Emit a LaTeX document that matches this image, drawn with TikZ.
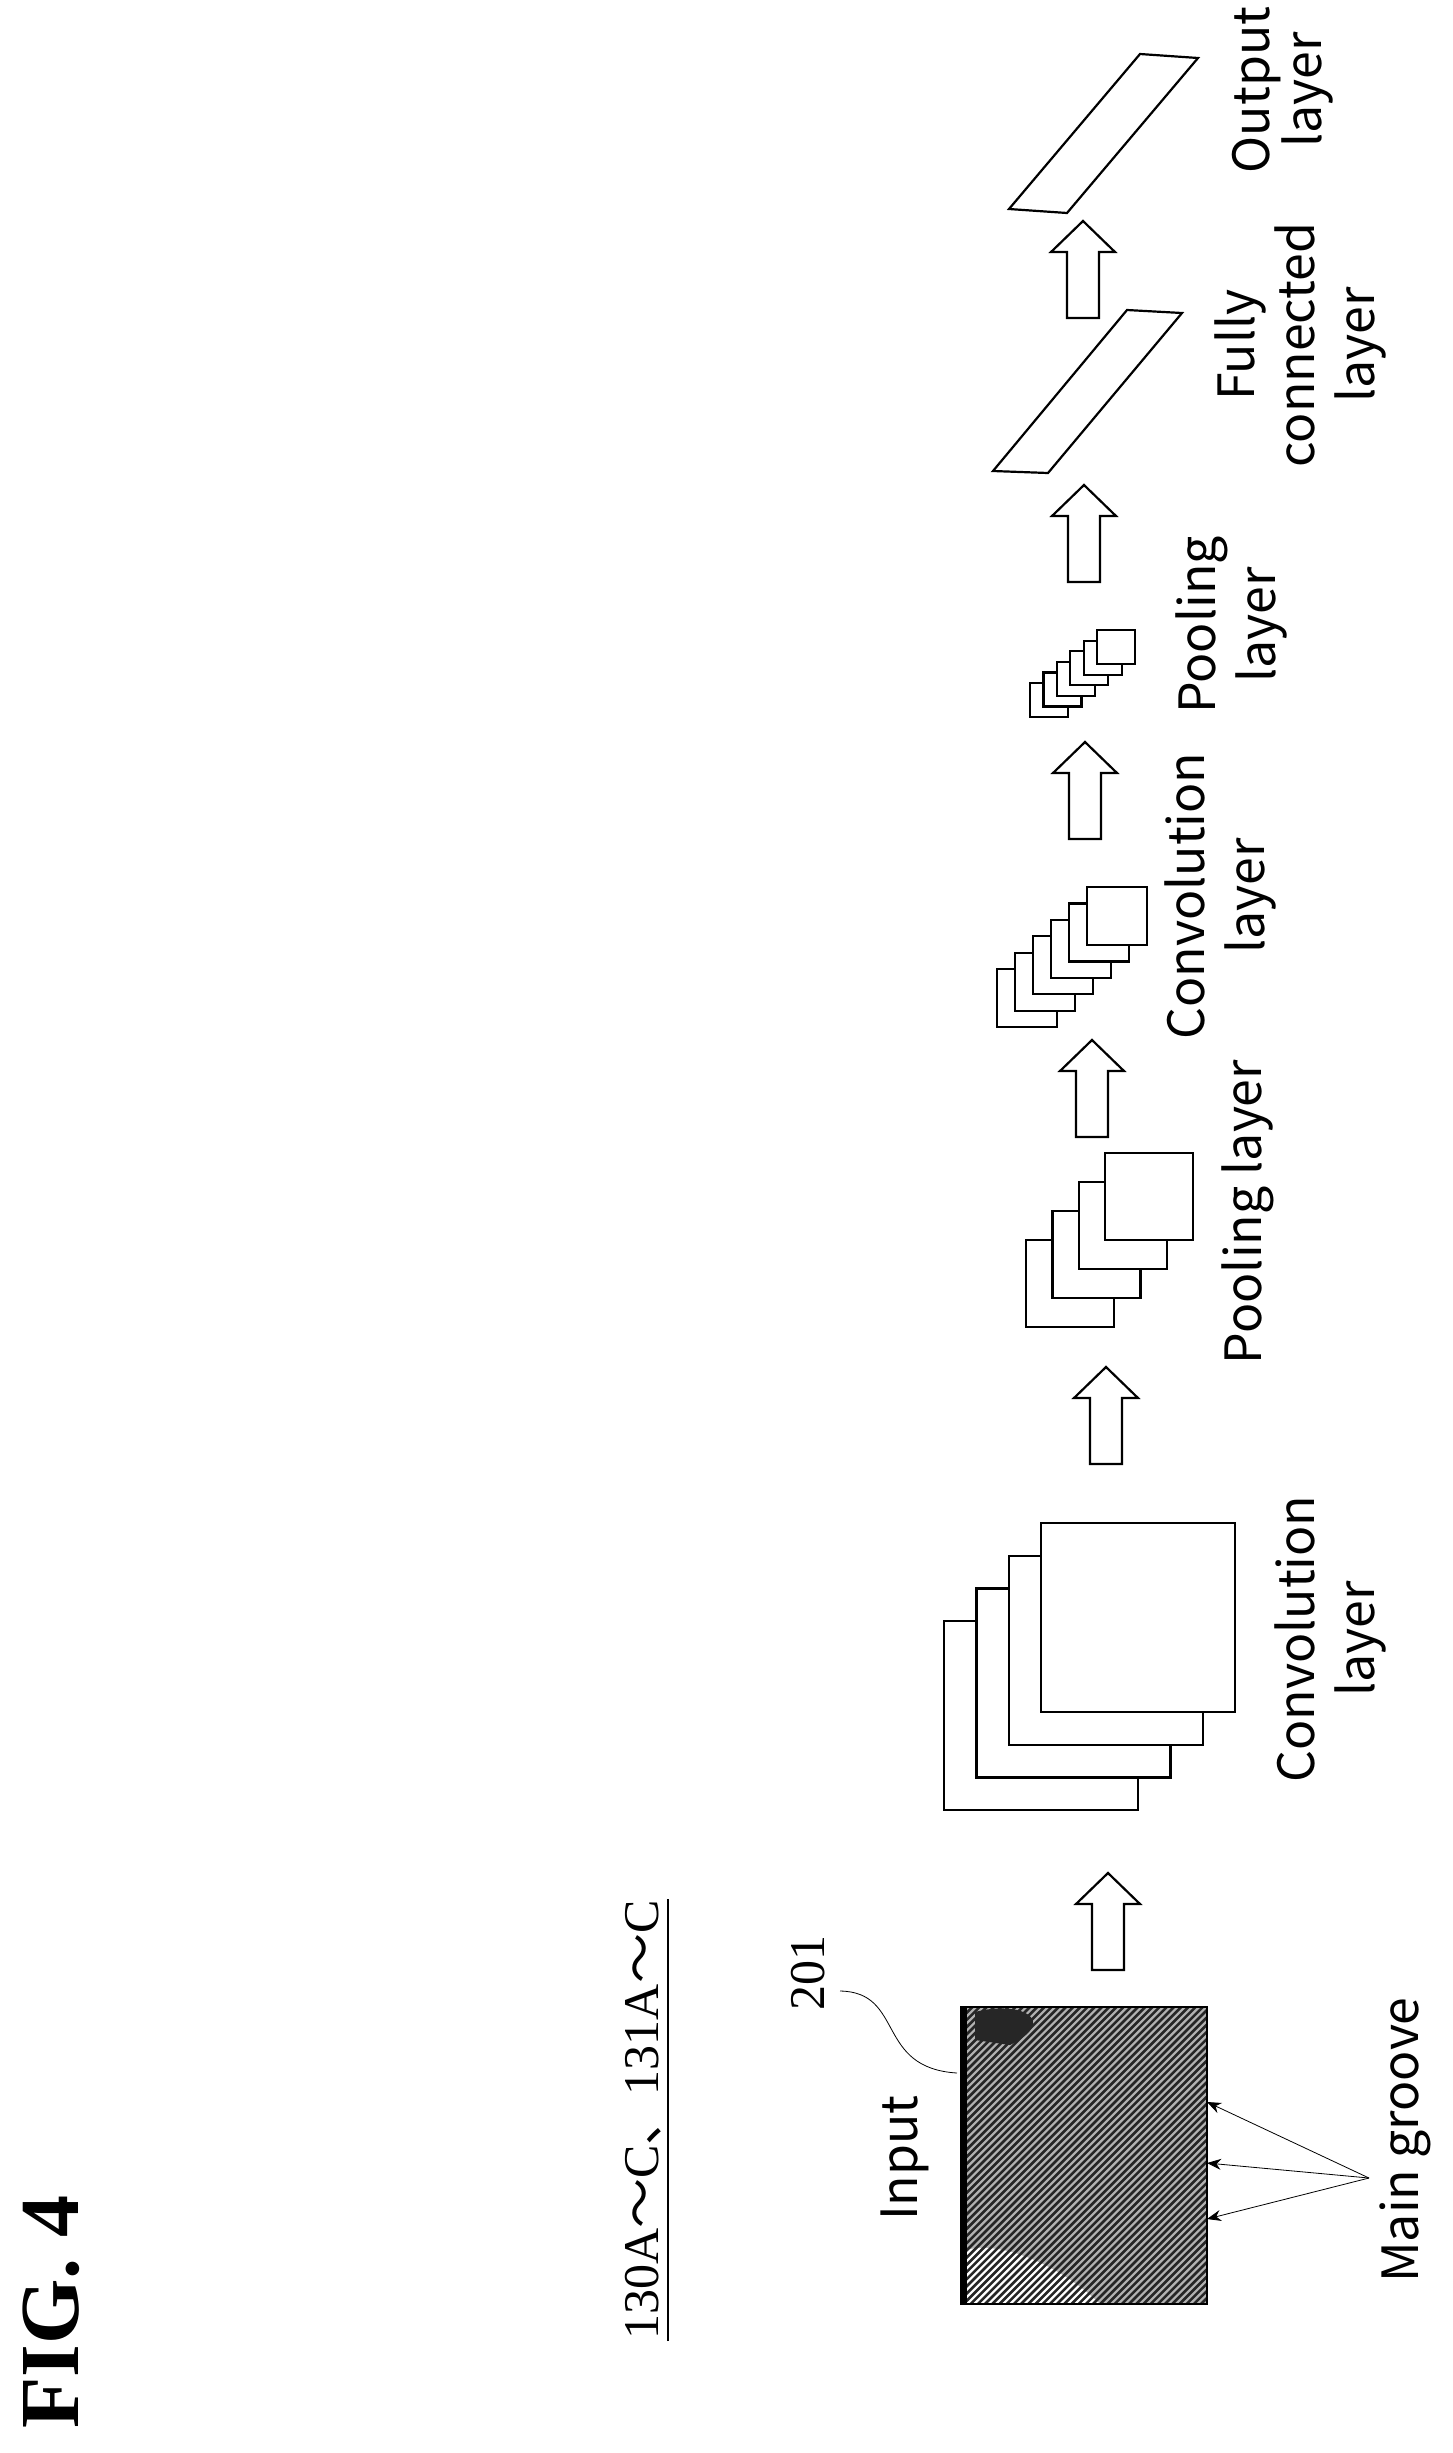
\documentclass[tikz,border=0pt]{standalone}
\usepackage{fontspec}
\setmainfont{Noto Sans CJK JP}
\newfontfamily\figfont{Liberation Serif}
\newfontfamily\cjk{Noto Sans CJK JP}
\usetikzlibrary{arrows.meta}
\tikzset{
  lbl/.style={rotate=90, font=\fontsize{50}{60}\selectfont, align=center, inner sep=0pt},
  sheet/.style={draw, line width=2.2pt, fill=white},
  harrow/.style={draw, line width=2.2pt, fill=white, line join=miter},
  hatch/.style={line width=2.6pt, black!85},
}
\newcommand{\hollowup}[3]{% name, x, tip y
  \draw[harrow] (#2,#3) -- ++(32,31) -- ++(-16,0) -- ++(0,66) -- ++(-32,0) -- ++(0,-66) -- ++(-16,0) -- cycle;
  \coordinate (#1) at (#2,#3);}
\begin{document}
\begin{tikzpicture}[x=1pt,y=-1pt]
\useasboundingbox (0,0) rectangle (1452,2453);
% title
\node[rotate=90, font=\figfont\bfseries\fontsize{84}{90}\selectfont, inner sep=0pt] (fig) at (51,2312) {FIG. 4};
\node[rotate=90, font=\figfont\fontsize{50}{60}\selectfont, inner sep=0pt] (ref) at (643,2120) {130A{\cjk 〜}C{\cjk 、}131A{\cjk 〜}C};
\draw[line width=2pt] (668,2341) -- (668,1899);
% input
\begin{scope}
\clip (961,2007) rectangle (1207,2304);
\fill[black!30] (961,2007) rectangle (1207,2304);
\fill[white] (966,2250) .. controls (1000,2240) and (1060,2265) .. (1100,2304) -- (966,2304) -- cycle;
\foreach \k in {0,...,80}{
  \draw[hatch] (661+\k*7.2,2304) -- ++(300,-300);
}
\fill[black!85] (975,2012) .. controls (1020,2000) and (1060,2020) .. (1010,2045) -- (975,2040) -- cycle;
\fill[black] (961,2007) rectangle (967,2304);
\end{scope}
\node[draw, line width=2pt, minimum width=246pt, minimum height=297pt, inner sep=0pt] (in) at (1084,2155.5) {};
\node[lbl] (inl) at (905,2158) {Input};
\node[rotate=90, font=\figfont\fontsize{50}{60}\selectfont, inner sep=0pt] (n201) at (808,1973) {201};
\coordinate (c201) at (840,1991);
\coordinate (e201) at (957,2073);
\draw[line width=0.8pt] (c201) .. controls (905,1992) and (875,2068) .. (e201);
\node[lbl] (mg) at (1405,2140) {Main groove};
\coordinate (mgc) at (1369,2178);
\foreach \yy/\nm in {2102/g1,2163/g2,2219/g3}{
  \coordinate (\nm) at (1207,\yy);
  \draw[line width=0.8pt, -{Stealth[length=14pt,width=11pt]}] (mgc) -- (\nm);
}
% arrows
\hollowup{a1}{1108}{1873}
\hollowup{a2}{1106}{1367}
\hollowup{a3}{1092}{1040}
\hollowup{a4}{1085}{742}
\hollowup{a5}{1084}{485}
\hollowup{a6}{1083}{221}
% conv1
\foreach \i in {3,2,1,0}{
  \draw[sheet] (1041-32.3*\i,1523+32.7*\i) rectangle ++(194,189);
}
\node[lbl] (conv1) at (1330,1639) {Convolution\\layer};
% pool1
\foreach \i in {3,2,1,0}{
  \draw[sheet] (1105-26.3*\i,1153+29*\i) rectangle ++(88,87);
}
\node[lbl] (pool1) at (1248,1212) {Pooling layer};
% conv2
\foreach \i in {5,4,3,2,1,0}{
  \draw[sheet] (1087-18*\i,887+16.4*\i) rectangle ++(60,58);
}
\node[lbl] (conv2) at (1220,896) {Convolution\\layer};
% pool2
\foreach \i in {5,4,3,2,1,0}{
  \draw[sheet] (1097-13.4*\i,630+10.6*\i) rectangle ++(38,34);
}
\node[lbl] (pool2) at (1231,625) {Pooling\\layer};
% FC
\draw[sheet] (993,471) -- (1048,473) -- (1182,313) -- (1127,310) -- cycle;
\node[lbl] (fc) at (1300,345) {Fully\\connected\\layer};
% output
\draw[sheet] (1009,209) -- (1067,213) -- (1198,58) -- (1140,54) -- cycle;
\node[lbl, font=\fontsize{50}{50}\selectfont] (out) at (1283,90) {Output\\layer};
\end{tikzpicture}
\end{document}
